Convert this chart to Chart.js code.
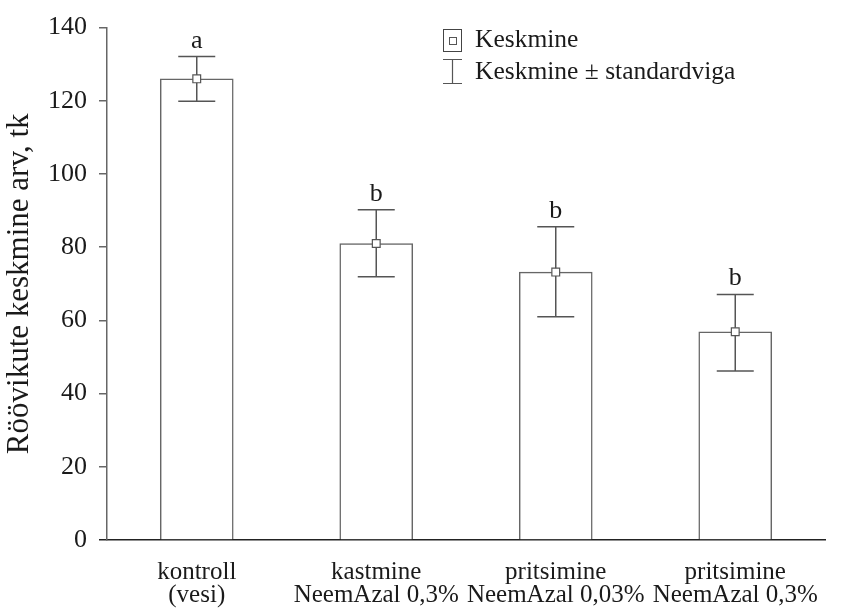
<!DOCTYPE html>
<html>
<head>
<meta charset="utf-8">
<script src="https://cdn.jsdelivr.net/npm/chart.js@4/dist/chart.umd.min.js"></script>
<style>
  html, body { margin: 0; padding: 0; background: #fff; }
  #wrap { width: 848px; height: 612px; }
</style>
</head>
<body>
<div id="wrap"><canvas id="rcanvas"></canvas></div>
<script>
// treatments
const categories = [
    ['kontroll', '(vesi)'],
    ['kastmine', 'NeemAzal 0,3%'],
    ['pritsimine', 'NeemAzal 0,03%'],
    ['pritsimine', 'NeemAzal 0,3%']
];
// mean caterpillar count and mean ± standard error
const means = [126, 81, 73.2, 56.9];
const errLow = [119.9, 71.9, 61, 46.2];
const errHigh = [132.1, 90.2, 85.6, 67.1];
// significance groups
const letters = ['a', 'b', 'b', 'b'];
const yTicks = [0, 20, 40, 60, 80, 100, 120, 140];

const SERIF = "'Liberation Serif', 'Times New Roman', serif";
const GREY = '#666';
const INK = '#1a1a1a';

// error bars, drawn between bars and mean markers
const errorBars = {
    id: 'errorBars',
    afterDatasetDraw(chart, args) {
        if (args.index !== 0) return;
        const { ctx, scales: { x, y } } = chart;
        ctx.save();
        ctx.strokeStyle = '#555';
        ctx.lineWidth = 1.5;
        means.forEach((m, i) => {
            const cx = x.getPixelForValue(i);
            const yl = y.getPixelForValue(errLow[i]);
            const yh = y.getPixelForValue(errHigh[i]);
            ctx.beginPath();
            ctx.moveTo(cx, yl); ctx.lineTo(cx, yh);
            ctx.moveTo(cx - 18.5, yh); ctx.lineTo(cx + 18.5, yh);
            ctx.moveTo(cx - 18.5, yl); ctx.lineTo(cx + 18.5, yl);
            ctx.stroke();
        });
        ctx.restore();
    }
};

// group letters and the key
const annotations = {
    id: 'annotations',
    afterDraw(chart) {
        const { ctx, scales: { x, y } } = chart;
        ctx.save();
        ctx.fillStyle = INK;
        ctx.font = '26px ' + SERIF;
        ctx.textAlign = 'center';
        ctx.textBaseline = 'alphabetic';
        letters.forEach((t, i) => {
            ctx.fillText(t, x.getPixelForValue(i), y.getPixelForValue(errHigh[i]) - 9);
        });

        // key
        ctx.strokeStyle = '#444';
        ctx.lineWidth = 1;
        ctx.strokeRect(443.5, 29.5, 18, 22);
        ctx.strokeStyle = '#555';
        ctx.strokeRect(449.5, 37.5, 7, 7);
        ctx.lineWidth = 1.2;
        ctx.beginPath();
        ctx.moveTo(443, 59.5); ctx.lineTo(462, 59.5);
        ctx.moveTo(452.5, 59.5); ctx.lineTo(452.5, 83.5);
        ctx.moveTo(443, 83.5); ctx.lineTo(462, 83.5);
        ctx.stroke();
        ctx.textAlign = 'left';
        ctx.font = '25.5px ' + SERIF;
        ctx.fillText('Keskmine', 475, 47);
        ctx.fillText('Keskmine \u00b1 standardviga', 475, 79);
        ctx.restore();
    }
};

new Chart(document.getElementById('rcanvas'), {
    data: {
        labels: categories,
        datasets: [
            {
                type: 'bar',
                data: means,
                backgroundColor: '#fff',
                borderColor: GREY,
                borderWidth: 1.5,
                barThickness: 73,
                order: 2
            },
            {
                type: 'line',
                data: means,
                showLine: false,
                pointStyle: 'rect',
                pointRadius: 5.5,
                pointBackgroundColor: '#fff',
                pointBorderColor: '#555',
                pointBorderWidth: 1.2,
                order: 1
            }
        ]
    },
    options: {
        responsive: true,
        maintainAspectRatio: false,
        animation: false,
        layout: { padding: { top: 22, right: 23, left: 0, bottom: 0 } },
        plugins: {
            legend: { display: false },
            tooltip: { enabled: false }
        },
        scales: {
            x: {
                grid: { display: false, drawTicks: false },
                border: { color: '#222', width: 1.5 },
                ticks: {
                    color: INK,
                    padding: 21,
                    maxRotation: 0,
                    autoSkip: false,
                    font: { family: SERIF, size: 25, lineHeight: 0.92 }
                },
                afterFit(scale) { scale.height = 72; }
            },
            y: {
                min: 0,
                max: 140,
                afterBuildTicks(scale) { scale.ticks = yTicks.map(v => ({ value: v })); },
                grid: {
                    drawOnChartArea: false,
                    tickLength: 8,
                    tickColor: c => (c.tick && c.tick.value === 0 ? '#222' : GREY),
                    lineWidth: 1.5
                },
                border: { color: GREY, width: 1.5 },
                ticks: {
                    color: INK,
                    padding: 12,
                    font: { family: SERIF, size: 26 }
                },
                title: {
                    display: true,
                    text: 'Röövikute keskmine arv, tk',
                    color: INK,
                    padding: { top: 1, bottom: 0 },
                    font: { family: SERIF, size: 31, lineHeight: 1.2 }
                },
                afterFit(scale) { scale.width = 107; }
            }
        }
    },
    plugins: [errorBars, annotations]
});
</script>
</body>
</html>
